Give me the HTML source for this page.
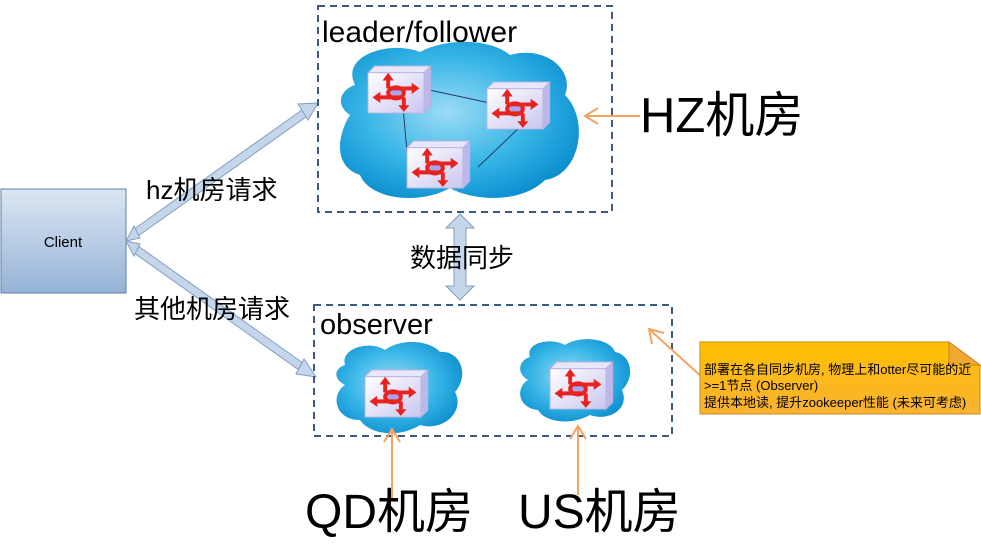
<!DOCTYPE html>
<html><head><meta charset="utf-8"><style>
html,body{margin:0;padding:0;background:#fff;}
svg text{font-family:"Liberation Sans","Noto Sans CJK SC",sans-serif;}
</style></head><body>
<svg width="981" height="541" viewBox="0 0 981 541" xmlns="http://www.w3.org/2000/svg">
<defs>
<linearGradient id="cl" x1="0" y1="0" x2="0" y2="1"><stop offset="0" stop-color="#dce6f2"/><stop offset="1" stop-color="#95b3d7"/></linearGradient>
<radialGradient id="cloud" cx="0.45" cy="0.45" r="0.6"><stop offset="0" stop-color="#9ddcf5"/><stop offset="0.6" stop-color="#34b4e6"/><stop offset="1" stop-color="#0e8fcf"/></radialGradient>
<linearGradient id="dev" x1="0" y1="0" x2="1" y2="1"><stop offset="0" stop-color="#ffffff"/><stop offset="1" stop-color="#c9c6f0"/></linearGradient>
<linearGradient id="note" x1="0" y1="0" x2="0" y2="1"><stop offset="0" stop-color="#ffc000"/><stop offset="1" stop-color="#f9b233"/></linearGradient>
<g id="device" transform="scale(1.12)">
<polygon points="0,6 6,0 56,0 50,6" fill="#e8e6fb" stroke="#b8b4e0" stroke-width="0.8"/>
<polygon points="50,6 56,0 56,36 50,42" fill="#bcb8ea" stroke="#b8b4e0" stroke-width="0.8"/>
<rect x="0" y="6" width="50" height="36" fill="url(#dev)" stroke="#b8b4e0" stroke-width="0.8"/>
<g stroke="#e8231f" stroke-width="3.5" fill="none">
<ellipse cx="25" cy="24" rx="7" ry="5" fill="#a8a6ee"/>
<line x1="18" y1="20" x2="18" y2="12"/><line x1="18" y1="20" x2="42" y2="20"/>
<line x1="32" y1="28" x2="8" y2="28"/><line x1="32" y1="28" x2="32" y2="38"/>
</g>
<g fill="#e8231f">
<polygon points="18,6 13,13 23,13"/><polygon points="46,20 39,15 39,25"/>
<polygon points="4,28 11,23 11,33"/><polygon points="32,41 27,35 37,35"/>
</g>
</g>
</defs>

<rect x="1" y="189" width="125" height="104" fill="url(#cl)" stroke="#5b7fa8" stroke-width="1"/>
<text x="63" y="247" font-size="15" text-anchor="middle" fill="#000">Client</text>

<g stroke="#7f9ec4" stroke-width="9"><line x1="134" y1="234" x2="306" y2="112"/><line x1="134" y1="248" x2="303" y2="368"/></g>
<g stroke="#c6d6ea" stroke-width="7"><line x1="134" y1="234" x2="306" y2="112"/><line x1="134" y1="248" x2="303" y2="368"/></g>
<g fill="#c6d6ea" stroke="#7f9ec4" stroke-width="1">
<polygon points="318,103 298,104 308,120"/>
<polygon points="316,377 304,359 296,374"/>
<polygon points="126,241 134,226 140,238"/>
<polygon points="126,241 140,244 134,256"/>
</g>
<text x="146" y="199" font-size="26" fill="#000">hz机房请求</text>
<text x="134" y="318" font-size="26" fill="#000">其他机房请求</text>

<rect x="318" y="6" width="294" height="206" fill="none" stroke="#3c5a80" stroke-width="2" stroke-dasharray="7,5"/>
<text x="322" y="42" font-size="30" fill="#000">leader/follower</text>
<path d="M355,85 C340,55 390,40 420,52 C445,38 490,38 510,55 C545,45 575,70 565,95 C590,120 580,175 545,180 C520,205 470,200 450,188 C420,205 370,200 360,175 C330,165 340,130 350,115 C335,105 340,90 355,85 Z" fill="url(#cloud)"/>
<g stroke="#2a3a6a" stroke-width="1"><line x1="420" y1="88" x2="490" y2="103"/><line x1="403" y1="107" x2="408" y2="163"/><line x1="478" y1="167" x2="522" y2="125"/></g>
<use href="#device" x="368" y="66"/>
<use href="#device" x="487" y="82"/>
<use href="#device" x="407" y="141"/>

<line x1="640" y1="116" x2="586" y2="116" stroke="#f4a460" stroke-width="2"/>
<polyline points="598,108 585,116 598,124" fill="none" stroke="#f4a460" stroke-width="2"/>
<text x="640" y="132" font-size="49" fill="#000">HZ机房</text>

<polygon points="460,214 446,228 454,228 454,286 446,286 460,300 474,286 466,286 466,228 474,228" fill="#c6d6ea" stroke="#7f9ec4" stroke-width="1"/>
<text x="410" y="267" font-size="26" fill="#000">数据同步</text>

<rect x="314" y="305" width="358" height="131" fill="none" stroke="#3c5a80" stroke-width="2" stroke-dasharray="7,5"/>
<text x="320" y="334" font-size="29" fill="#000">observer</text>
<path d="M345,365 C340,348 370,340 385,350 C400,338 430,340 440,352 C460,350 470,375 455,392 C465,410 445,432 420,425 C400,438 370,435 360,420 C335,420 330,395 345,385 C332,378 335,368 345,365 Z" fill="url(#cloud)"/>
<path d="M530,357 C525,343 550,337 565,345 C580,335 610,338 615,352 C632,355 635,378 622,390 C630,408 610,422 590,415 C570,426 545,422 538,410 C518,408 515,388 528,380 C515,372 520,360 530,357 Z" fill="url(#cloud)"/>
<use href="#device" x="365" y="370"/>
<use href="#device" x="550" y="362"/>

<g stroke="#f4a460" stroke-width="2" fill="none">
<line x1="392" y1="498" x2="392" y2="430"/><polyline points="384,442 392,429 400,442"/>
<line x1="578" y1="495" x2="578" y2="427"/><polyline points="570,439 578,426 586,439"/>
<line x1="703" y1="378" x2="650" y2="330"/><polyline points="652,344 649,329 664,333"/>
</g>
<text x="305" y="528" font-size="48" fill="#000">QD机房</text>
<text x="518" y="528" font-size="48" fill="#000">US机房</text>

<polygon points="700,342 949,342 980,365 980,414 700,414" fill="url(#note)" stroke="#c88a1a" stroke-width="1"/>
<polygon points="949,342 949,365 980,365" fill="#f0a830" stroke="#c88a1a" stroke-width="1"/>
<text font-size="13" fill="#000"><tspan x="704" y="374">部署在各自同步机房, 物理上和otter尽可能的近</tspan><tspan x="704" y="390">&gt;=1节点 (Observer)</tspan><tspan x="704" y="407">提供本地读, 提升zookeeper性能 (未来可考虑)</tspan></text>
</svg>
</body></html>
